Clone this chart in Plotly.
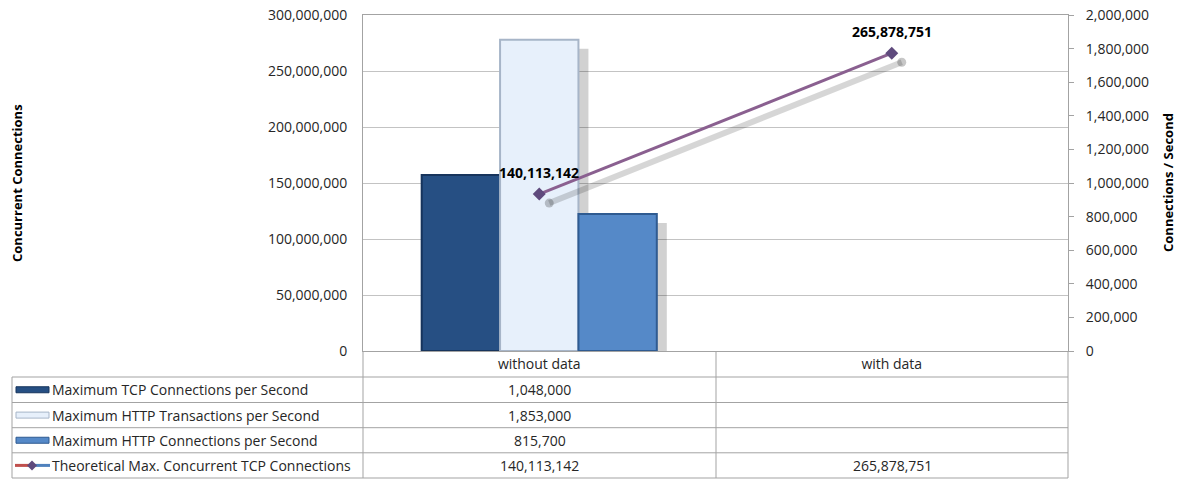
import plotly.graph_objects as go

# ---------------- data ----------------
categories = ["without data", "with data"]
tcp_conn_per_sec = [1048000, None]
http_trans_per_sec = [1853000, None]
http_conn_per_sec = [815700, None]
max_concurrent_tcp = [140113142, 265878751]

series_names = [
    "Maximum TCP Connections per Second",
    "Maximum HTTP Transactions per Second",
    "Maximum HTTP Connections per Second",
    "Theoretical Max. Concurrent TCP Connections",
]
left_tickvals = [0, 50000000, 100000000, 150000000, 200000000, 250000000, 300000000]
right_tickvals = [0, 200000, 400000, 600000, 800000, 1000000, 1200000, 1400000,
                  1600000, 1800000, 2000000]

# ---------------- styling ----------------
W, H = 1177, 480
L, R, T, B = 363, 1068, 15, 351
FONT = "Open Sans"
TXT = "#262626"
GRID = "#c3c3c3"
LINE = "#a3a3a3"

bar_fill = ["#264f83", "#e7f0fb", "#5589c8"]
bar_edge = ["#17345c", "#a7b5c8", "#2f5b91"]
line_color = "#8a6090"
marker_color = "#5f4a7d"

LEFT_MAX = 300000000
RIGHT_MAX = 2000000

# shadow offsets (pixels) converted to axis-range shifts
SH_X, SH_Y = 10, 9
plot_w, plot_h = R - L, B - T
dx = SH_X / plot_w * 2.0
dy_r = SH_Y / plot_h * RIGHT_MAX
dy_l = SH_Y / plot_h * LEFT_MAX


def px(xp):
    return (xp - L) / plot_w


def py(yp):
    return (B - yp) / plot_h


def fmt(v):
    return "" if v is None else f"{v:,}"


fig = go.Figure()

bar_series = [tcp_conn_per_sec, http_trans_per_sec, http_conn_per_sec]

# shadows of bars (main subplot, drawn first)
for vals in bar_series:
    fig.add_trace(go.Bar(x=categories, y=vals, xaxis="x", yaxis="y",
                         marker=dict(color="rgba(0,0,0,0.18)", line=dict(width=0)),
                         showlegend=False, hoverinfo="skip"))

# real bars
for i, vals in enumerate(bar_series):
    fig.add_trace(go.Bar(x=categories, y=vals, xaxis="x2", yaxis="y2", name=series_names[i],
                         marker=dict(color=bar_fill[i], line=dict(color=bar_edge[i], width=2)),
                         showlegend=False))

# line shadow
fig.add_trace(go.Scatter(x=categories, y=max_concurrent_tcp, xaxis="x3", yaxis="y3",
                         mode="lines+markers",
                         line=dict(color="rgba(0,0,0,0.16)", width=6),
                         marker=dict(color="rgba(0,0,0,0.22)", size=9),
                         showlegend=False, hoverinfo="skip"))

# line
fig.add_trace(go.Scatter(x=categories, y=max_concurrent_tcp, xaxis="x4", yaxis="y4",
                         name=series_names[3], mode="lines+markers",
                         line=dict(color=line_color, width=3),
                         marker=dict(symbol="diamond", size=10, color=marker_color),
                         showlegend=False))

annotations = []
shapes = []

# data labels
for c, v in zip(categories, max_concurrent_tcp):
    annotations.append(dict(x=c, y=v, xref="x4", yref="y4", text=f"<b>{v:,}</b>",
                            showarrow=False, yshift=22,
                            font=dict(family=FONT, size=14, color="#000000")))

# axis titles
annotations.append(dict(x=px(17), y=0.5, xref="paper", yref="paper", textangle=-90,
                        text="<b>Concurrent Connections</b>", showarrow=False,
                        xanchor="center", yanchor="middle",
                        font=dict(family=FONT, size=13, color="#000000")))
annotations.append(dict(x=px(1168), y=0.5, xref="paper", yref="paper", textangle=-90,
                        text="<b>Connections / Second</b>", showarrow=False,
                        xanchor="center", yanchor="middle",
                        font=dict(family=FONT, size=13, color="#000000")))

# ---------------- data table ----------------
row_lines = [377, 402.5, 427.7, 452.8, 478]
row_centers = [(row_lines[k] + row_lines[k + 1]) / 2 for k in range(4)]
col_left, col_mid = 12, 716
cell_centers = [(L + col_mid) / 2, (col_mid + R) / 2]

for yl in row_lines:
    shapes.append(dict(type="line", xref="paper", yref="paper",
                       x0=px(col_left), x1=px(R), y0=py(yl), y1=py(yl),
                       line=dict(color=LINE, width=1)))
shapes.append(dict(type="line", xref="paper", yref="paper", x0=px(col_left), x1=px(col_left),
                   y0=py(row_lines[0]), y1=py(row_lines[-1]), line=dict(color=LINE, width=1)))
for xl in [L, col_mid, R]:
    shapes.append(dict(type="line", xref="paper", yref="paper", x0=px(xl), x1=px(xl),
                       y0=py(B), y1=py(row_lines[-1]), line=dict(color=LINE, width=1)))

all_series = bar_series + [max_concurrent_tcp]
for r, (name, vals) in enumerate(zip(series_names, all_series)):
    yc = row_centers[r]
    annotations.append(dict(x=px(50), y=py(yc), xref="paper", yref="paper", text=name,
                            showarrow=False, xanchor="left", yanchor="middle",
                            font=dict(family=FONT, size=14, color=TXT)))
    for k, v in enumerate(vals):
        if v is None:
            continue
        annotations.append(dict(x=px(cell_centers[k]), y=py(yc), xref="paper", yref="paper",
                                text=fmt(v), showarrow=False, xanchor="center",
                                yanchor="middle", font=dict(family=FONT, size=14, color=TXT)))
    # legend keys
    if r < 3:
        shapes.append(dict(type="rect", xref="paper", yref="paper",
                           x0=px(16), x1=px(49), y0=py(yc - 3), y1=py(yc + 3),
                           fillcolor=bar_fill[r], line=dict(color=bar_edge[r], width=1)))
    else:
        shapes.append(dict(type="line", xref="paper", yref="paper", x0=px(15), x1=px(32),
                           y0=py(yc), y1=py(yc), line=dict(color="#c0504d", width=3)))
        shapes.append(dict(type="line", xref="paper", yref="paper", x0=px(32), x1=px(50),
                           y0=py(yc), y1=py(yc), line=dict(color="#4f81bd", width=3)))
        d = 5
        shapes.append(dict(type="path", xref="paper", yref="paper",
                           path=(f"M {px(32)},{py(yc - d)} L {px(32 + d)},{py(yc)} "
                                 f"L {px(32)},{py(yc + d)} L {px(32 - d)},{py(yc)} Z"),
                           fillcolor=marker_color, line=dict(width=0)))

tickfont = dict(family=FONT, size=14, color=TXT)

fig.update_layout(
    template="none",
    width=W, height=H,
    margin=dict(l=L, r=W - R, t=T, b=H - B, pad=0, autoexpand=False),
    paper_bgcolor="white", plot_bgcolor="white",
    barmode="group", bargap=0.333, bargroupgap=0,
    showlegend=False,
    font=dict(family=FONT, size=14, color=TXT),
    xaxis=dict(type="category", categoryarray=categories, range=[-0.5 - dx, 1.5 - dx],
               visible=False, automargin=False),
    xaxis2=dict(type="category", categoryarray=categories, overlaying="x",
                range=[-0.5, 1.5], showline=True, mirror=True, linecolor=LINE, linewidth=1,
                ticks="", showgrid=False, zeroline=False, tickfont=tickfont,
                ticklabelstandoff=0, automargin=False),
    xaxis3=dict(type="category", categoryarray=categories, overlaying="x",
                range=[-0.5 - dx, 1.5 - dx], visible=False, automargin=False),
    xaxis4=dict(type="category", categoryarray=categories, overlaying="x",
                range=[-0.5, 1.5], visible=False, automargin=False),
    yaxis=dict(range=[dy_r, RIGHT_MAX + dy_r], visible=False, automargin=False),
    yaxis2=dict(overlaying="y", side="right", range=[0, RIGHT_MAX], tickvals=right_tickvals,
                tickformat=",d", ticks="outside", ticklen=5, tickcolor=LINE, tickwidth=1,
                showline=True, linecolor=LINE, showgrid=False, zeroline=False,
                tickfont=tickfont, ticklabelstandoff=9, automargin=False),
    yaxis3=dict(overlaying="y", range=[dy_l, LEFT_MAX + dy_l], visible=False,
                automargin=False),
    yaxis4=dict(overlaying="y", side="left", range=[0, LEFT_MAX], tickvals=left_tickvals,
                tickformat=",d", ticks="", showline=True, linecolor=LINE,
                showgrid=True, gridcolor=GRID, gridwidth=1, zeroline=False,
                tickfont=tickfont, ticklabelstandoff=12, automargin=False),
    annotations=annotations,
    shapes=shapes,
)

fig.write_html("out.html", config={"displayModeBar": False},
               post_script="document.body.style.margin='0';")
